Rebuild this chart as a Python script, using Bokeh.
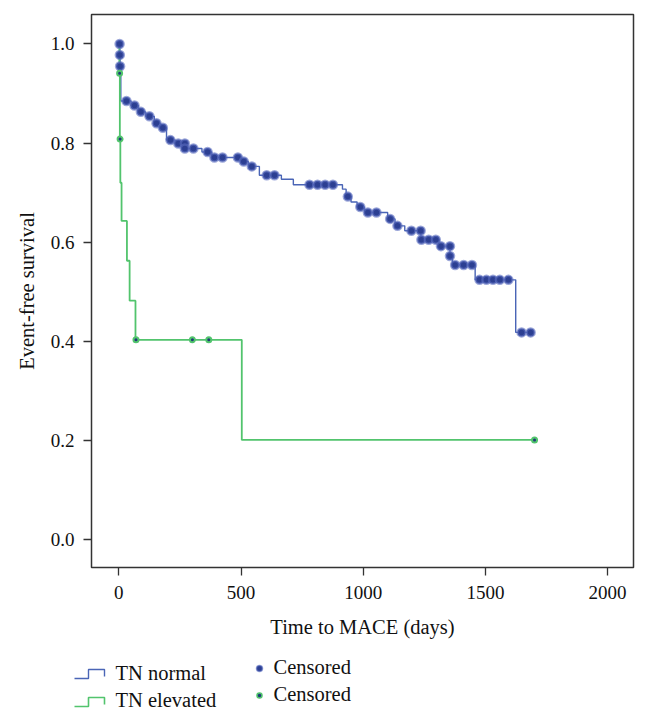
from bokeh.plotting import figure
from bokeh.models import Range1d, FixedTicker, PrintfTickFormatter
from bokeh.layouts import column
from bokeh.core.properties import value
from bokeh.embed import file_html
from bokeh.resources import INLINE

# ---- data ----
# TN normal: Kaplan-Meier step curve (time, survival after step)
normal_t = [0, 4, 5, 8, 50, 80, 110, 145, 170, 195, 230, 270, 340, 380, 500, 530,
            575, 665, 714, 915, 930, 950, 975, 1005, 1100, 1130, 1170, 1236, 1310,
            1355, 1365, 1458, 1624, 1685]
normal_s = [1.0, 0.978, 0.955, 0.885, 0.876, 0.863, 0.854, 0.840, 0.831, 0.806, 0.799,
            0.789, 0.782, 0.771, 0.763, 0.753, 0.735, 0.727, 0.716, 0.707, 0.692, 0.681,
            0.671, 0.660, 0.647, 0.633, 0.623, 0.605, 0.592, 0.572, 0.554, 0.524, 0.418,
            0.418]
# TN normal censored observations
normal_cens_t = [3, 4, 5, 31, 64, 90, 125, 154, 180, 211, 243, 270, 270, 305, 363, 391,
                 424, 487, 511, 544, 605, 637, 780, 813, 844, 876, 937, 988, 1019, 1054,
                 1110, 1140, 1197, 1235, 1238, 1268, 1297, 1318, 1355, 1355, 1376, 1411,
                 1445, 1476, 1504, 1531, 1559, 1594, 1648, 1685]
normal_cens_s = [1.0, 0.978, 0.955, 0.885, 0.876, 0.863, 0.854, 0.840, 0.831, 0.806,
                 0.799, 0.799, 0.789, 0.789, 0.782, 0.771, 0.771, 0.771, 0.763, 0.753,
                 0.735, 0.735, 0.716, 0.716, 0.716, 0.716, 0.692, 0.671, 0.660, 0.660,
                 0.647, 0.633, 0.623, 0.623, 0.605, 0.605, 0.605, 0.592, 0.592, 0.572,
                 0.554, 0.554, 0.554, 0.524, 0.524, 0.524, 0.524, 0.524, 0.418, 0.418]

# TN elevated
elev_t = [0, 2, 4, 6, 11, 33, 44, 68, 503, 1701]
elev_s = [1.0, 0.941, 0.808, 0.720, 0.643, 0.5625, 0.482, 0.403, 0.201, 0.201]
elev_cens_t = [3, 5, 70, 301, 368, 1701]
elev_cens_s = [0.941, 0.808, 0.403, 0.403, 0.403, 0.201]

x_ticks = [0, 500, 1000, 1500, 2000]
y_ticks = [0.0, 0.2, 0.4, 0.6, 0.8, 1.0]
series_labels = ["TN normal", "TN elevated"]
censor_labels = ["Censored", "Censored"]

BLUE_LINE = "#4a65b6"
GREEN_LINE = "#52c46d"
BLUE_DOT = "#2c3f92"
BLUE_HALO = "#5a6cc0"
GREEN_DOT_CORE = "#1f3a78"
FONT = "Liberation Serif"
TXT = "#111111"

p = figure(width=639, height=648,
           x_range=Range1d(-112, 2106), y_range=Range1d(-0.0565, 1.0595),
           output_backend="svg", toolbar_location=None,
           min_border_left=91, min_border_right=6, min_border_top=14,
           min_border_bottom=81)
p.grid.visible = False
p.outline_line_color = "#333333"
p.outline_line_width = 1.5
p.background_fill_color = "white"
p.border_fill_color = "white"

for ax in (p.xaxis[0], p.yaxis[0]):
    ax.axis_line_color = None
    ax.major_tick_line_color = "#333333"
    ax.major_tick_line_width = 1.3
    ax.major_tick_out = 8
    ax.major_tick_in = 0
    ax.minor_tick_line_color = None
    ax.major_label_text_font = FONT
    ax.major_label_text_font_size = "19px"
    ax.major_label_text_color = TXT
    ax.axis_label_text_font = FONT
    ax.axis_label_text_font_size = "20.5px"
    ax.axis_label_text_font_style = "normal"
    ax.axis_label_text_color = TXT

p.xaxis.ticker = FixedTicker(ticks=x_ticks)
p.yaxis.ticker = FixedTicker(ticks=y_ticks)
p.yaxis.formatter = PrintfTickFormatter(format="%.1f")
p.xaxis.axis_label = "Time to MACE (days)"
p.yaxis.axis_label = "Event-free survival"
p.xaxis.major_label_standoff = 10
p.yaxis.major_label_standoff = 9
p.xaxis.axis_label_standoff = 14
p.yaxis.axis_label_standoff = 10

p.step(normal_t, normal_s, mode="after", line_color=BLUE_LINE, line_width=1.4)
p.step(elev_t, elev_s, mode="after", line_color=GREEN_LINE, line_width=1.8)
p.scatter(normal_cens_t, normal_cens_s, size=8, fill_color=BLUE_DOT,
          line_color=BLUE_HALO, line_width=2.5, line_alpha=0.6)
p.scatter(elev_cens_t, elev_cens_s, size=5, fill_color=GREEN_DOT_CORE,
          line_color=GREEN_LINE, line_width=2)

# ---- legend panel (coordinates in page pixels) ----
lg = figure(width=639, height=64, x_range=Range1d(0, 639), y_range=Range1d(0, 64),
            output_backend="svg", toolbar_location=None, min_border=0,
            x_axis_type=None, y_axis_type=None)
try:
    lg.frame_align = False
except Exception:
    pass
lg.grid.visible = False
lg.outline_line_color = None
lg.background_fill_color = "white"
lg.border_fill_color = "white"

lg.line([74, 88, 88, 104, 104], [34, 34, 43, 43, 36], line_color=BLUE_LINE, line_width=1.4)
lg.line([74, 88, 88, 104, 104], [6, 6, 15, 15, 8], line_color=GREEN_LINE, line_width=1.6)
lg.text(x=[115, 115], y=[40, 13], text=series_labels, text_font=value(FONT),
        text_font_size="20.5px", text_baseline="middle", text_color=TXT)
lg.scatter([259], [44], size=6, fill_color=BLUE_DOT, line_color=BLUE_HALO,
           line_width=1.5, line_alpha=0.6)
lg.scatter([259], [17], size=5, fill_color=GREEN_DOT_CORE, line_color=GREEN_LINE,
           line_width=1.5)
lg.text(x=[273, 273], y=[46, 19], text=censor_labels, text_font=value(FONT),
        text_font_size="20.5px", text_baseline="middle", text_color=TXT)

layout = column(p, lg)
open("out.html", "w").write(file_html(layout, INLINE))
